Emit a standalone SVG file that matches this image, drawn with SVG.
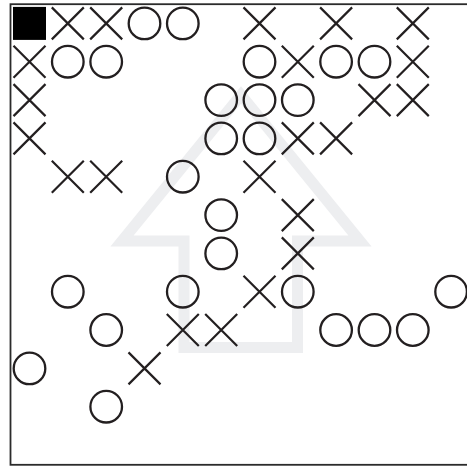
<svg xmlns="http://www.w3.org/2000/svg" xmlns:xlink="http://www.w3.org/1999/xlink" width="467" height="468" viewBox="0 0 467 468">
<defs>
<style>
.o{fill:none;stroke:#231f20;stroke-width:2.3}
.x{fill:none;stroke:#231f20;stroke-width:2.2}
.s{fill:#000}
</style>
<g id="X"><path class="x" d="M-16,-16L16,16M16,-16L-16,16"/></g>
<g id="O"><circle class="o" r="15.8"/></g>
</defs>
<rect width="467" height="468" fill="#fff"/>
<g id="bg-arrow"><polygon points="241,95 360,241 297.5,241 297.5,347.5 184,347.5 184,241 122,241" fill="none" stroke="#edeef0" stroke-width="11" stroke-linejoin="miter"/></g>
<rect id="frame" x="10.5" y="4.2" width="460" height="460.6" fill="none" stroke="#2b2b2b" stroke-width="1.8"/>
<g id="connectors"/>
<g id="n0-0"><rect class="s" x="13" y="6.9" width="33" height="33"/></g>
<g id="n0-1"><use href="#X" x="67.8" y="23.4"/></g>
<g id="n0-2"><use href="#X" x="106.2" y="23.4"/></g>
<g id="n0-3"><use href="#O" x="144.5" y="23.4"/></g>
<g id="n0-4"><use href="#O" x="182.8" y="23.4"/></g>
<g id="n0-6"><use href="#X" x="259.5" y="23.4"/></g>
<g id="n0-8"><use href="#X" x="336.1" y="23.4"/></g>
<g id="n0-10"><use href="#X" x="412.8" y="23.4"/></g>
<g id="n1-0"><use href="#X" x="29.5" y="61.7"/></g>
<g id="n1-1"><use href="#O" x="67.8" y="61.7"/></g>
<g id="n1-2"><use href="#O" x="106.2" y="61.7"/></g>
<g id="n1-6"><use href="#O" x="259.5" y="61.7"/></g>
<g id="n1-7"><use href="#X" x="297.8" y="61.7"/></g>
<g id="n1-8"><use href="#O" x="336.1" y="61.7"/></g>
<g id="n1-9"><use href="#O" x="374.5" y="61.7"/></g>
<g id="n1-10"><use href="#X" x="412.8" y="61.7"/></g>
<g id="n2-0"><use href="#X" x="29.5" y="100.1"/></g>
<g id="n2-5"><use href="#O" x="221.2" y="100.1"/></g>
<g id="n2-6"><use href="#O" x="259.5" y="100.1"/></g>
<g id="n2-7"><use href="#O" x="297.8" y="100.1"/></g>
<g id="n2-9"><use href="#X" x="374.5" y="100.1"/></g>
<g id="n2-10"><use href="#X" x="412.8" y="100.1"/></g>
<g id="n3-0"><use href="#X" x="29.5" y="138.4"/></g>
<g id="n3-5"><use href="#O" x="221.2" y="138.4"/></g>
<g id="n3-6"><use href="#O" x="259.5" y="138.4"/></g>
<g id="n3-7"><use href="#X" x="297.8" y="138.4"/></g>
<g id="n3-8"><use href="#X" x="336.1" y="138.4"/></g>
<g id="n4-1"><use href="#X" x="67.8" y="176.7"/></g>
<g id="n4-2"><use href="#X" x="106.2" y="176.7"/></g>
<g id="n4-4"><use href="#O" x="182.8" y="176.7"/></g>
<g id="n4-6"><use href="#X" x="259.5" y="176.7"/></g>
<g id="n5-5"><use href="#O" x="221.2" y="215.1"/></g>
<g id="n5-7"><use href="#X" x="297.8" y="215.1"/></g>
<g id="n6-5"><use href="#O" x="221.2" y="253.4"/></g>
<g id="n6-7"><use href="#X" x="297.8" y="253.4"/></g>
<g id="n7-1"><use href="#O" x="67.8" y="291.7"/></g>
<g id="n7-4"><use href="#O" x="182.8" y="291.7"/></g>
<g id="n7-6"><use href="#X" x="259.5" y="291.7"/></g>
<g id="n7-7"><use href="#O" x="297.8" y="291.7"/></g>
<g id="n7-11"><use href="#O" x="451.1" y="291.7"/></g>
<g id="n8-2"><use href="#O" x="106.2" y="330"/></g>
<g id="n8-4"><use href="#X" x="182.8" y="330"/></g>
<g id="n8-5"><use href="#X" x="221.2" y="330"/></g>
<g id="n8-8"><use href="#O" x="336.1" y="330"/></g>
<g id="n8-9"><use href="#O" x="374.5" y="330"/></g>
<g id="n8-10"><use href="#O" x="412.8" y="330"/></g>
<g id="n9-0"><use href="#O" x="29.5" y="368.4"/></g>
<g id="n9-3"><use href="#X" x="144.5" y="368.4"/></g>
<g id="n10-2"><use href="#O" x="106.2" y="406.7"/></g>
</svg>
